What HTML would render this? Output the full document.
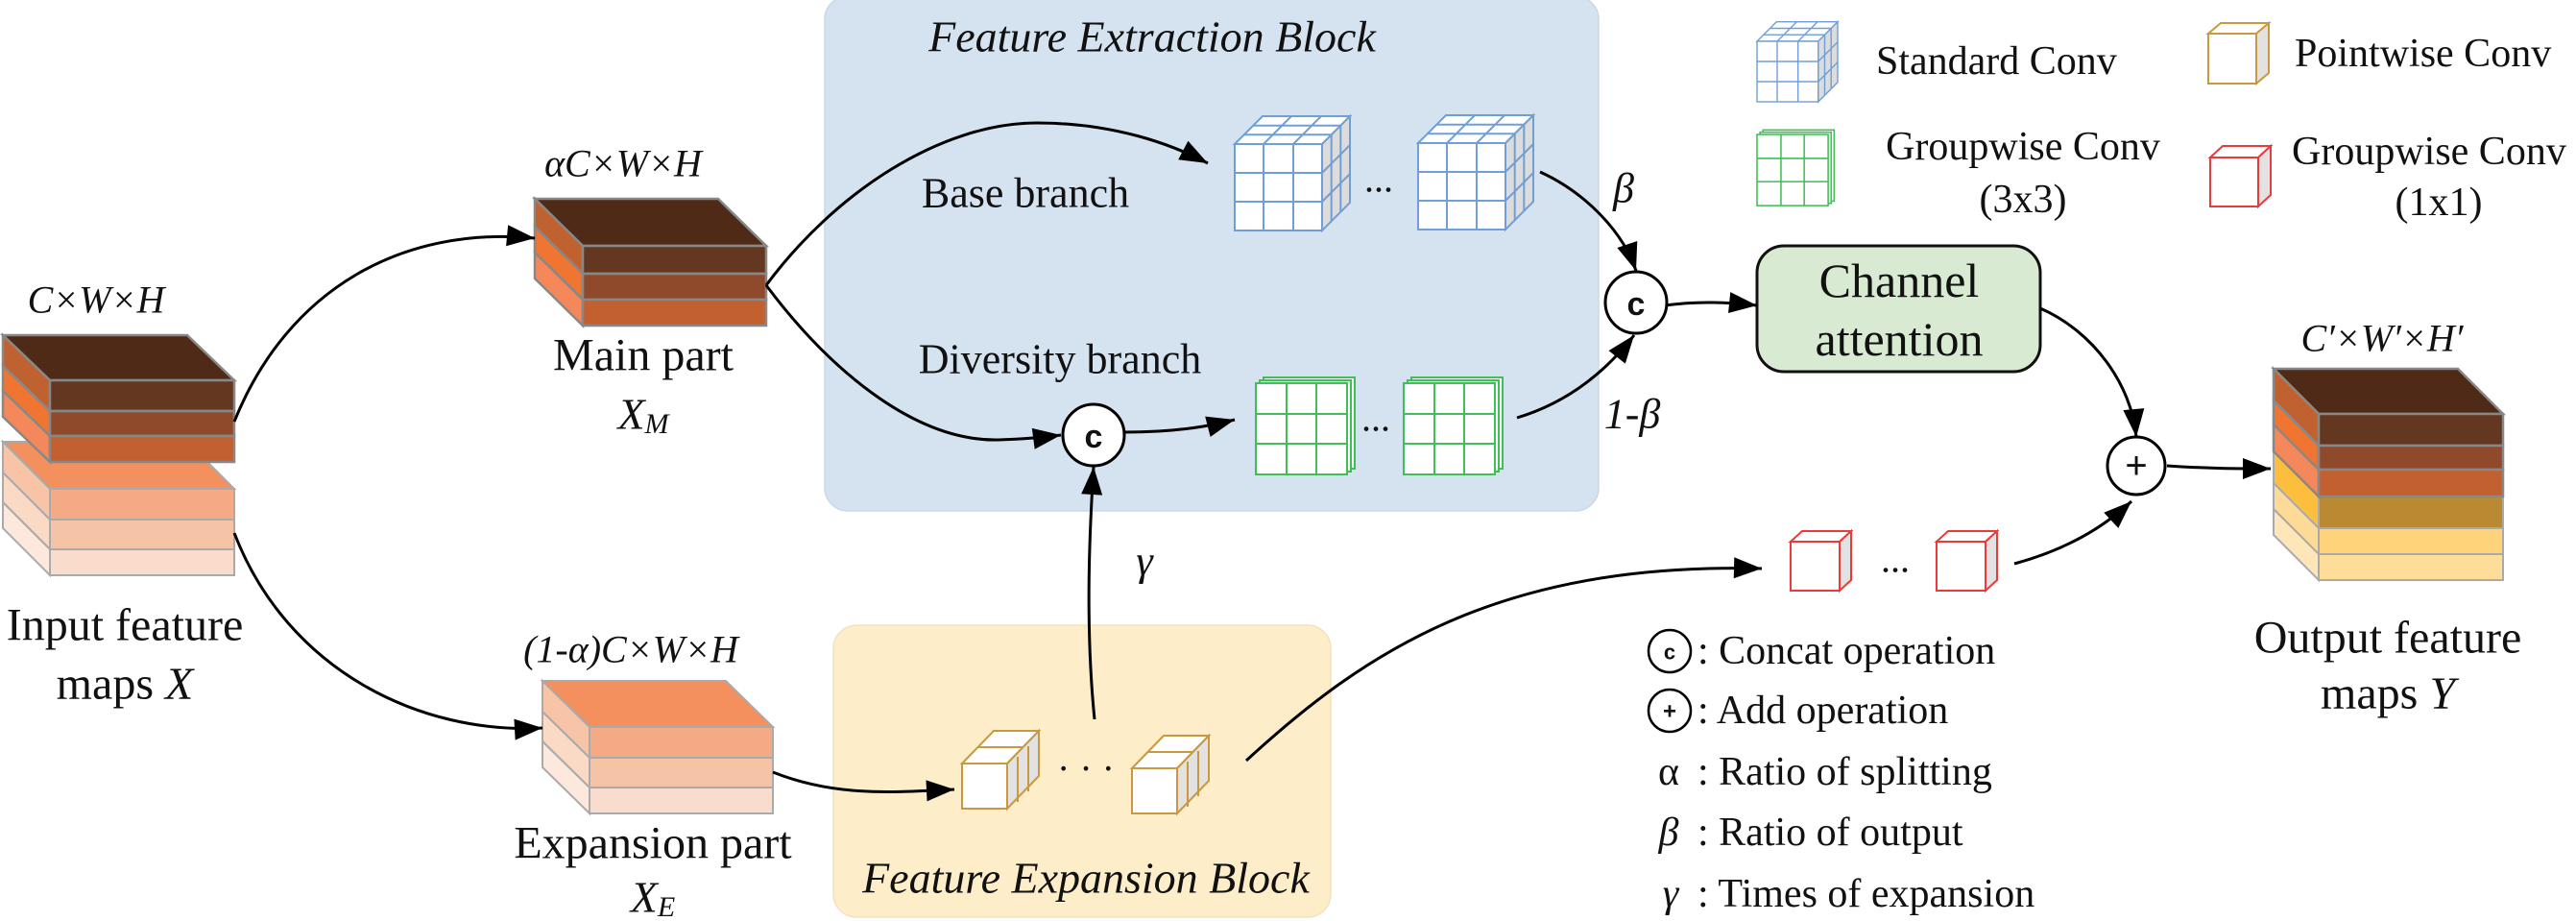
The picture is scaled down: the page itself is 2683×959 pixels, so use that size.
<!DOCTYPE html>
<html><head><meta charset="utf-8"><style>
html,body{margin:0;padding:0;background:#fff;}
svg{display:block;font-family:"Liberation Serif","Times New Roman","DejaVu Serif",serif;}
svg text{font-family:"Liberation Serif","Times New Roman","DejaVu Serif",serif;fill:#111;}
svg text.it, svg tspan.it{font-style:italic;}
svg text.sans{font-family:"Liberation Sans","DejaVu Sans",sans-serif;font-weight:bold;}
</style></head><body>
<svg width="2683" height="959" viewBox="0 0 2683 959" xmlns="http://www.w3.org/2000/svg" font-family="Liberation Serif, Times New Roman, DejaVu Serif, serif">
<defs>
<marker id="ah" viewBox="0 0 10 10" refX="9" refY="5" markerWidth="10" markerHeight="10" markerUnits="userSpaceOnUse" orient="auto" style="overflow:visible">
<path d="M-20,-6 L9,5 L-20,16 Z" fill="#000"/>
</marker>
<g id="bcube" fill="#fff" stroke="#6f9fd6" stroke-width="2">
<polygon points="0,0 29,-29 120,-29 91,0"/>
<polygon points="91,0 120,-29 120,61 91,90" fill="#dcdcdc"/>
<rect x="0" y="0" width="91" height="90"/>
<path d="M30,0V90M61,0V90M0,30H91M0,60H91M30,0L59,-29M61,0L90,-29M9.7,-9.7H100.7M19.3,-19.3H110.3M91,30L120,1M91,60L120,31M100.7,-9.7V80.3M110.3,-19.3V70.7" fill="none"/>
</g>
<g id="gcube" fill="#fff" stroke="#3fbf55" stroke-width="2">
<rect x="8" y="-6" width="95" height="95"/>
<rect x="4" y="-3" width="95" height="95"/>
<rect x="0" y="0" width="95" height="95"/>
<path d="M32,0V95M63,0V95M0,32H95M0,63H95" fill="none"/>
</g>
<g id="pcube" fill="#fff" stroke="#c9983f" stroke-width="2">
<polygon points="0,0 33,-34 80,-34 47,0"/>
<polygon points="47,0 80,-34 80,13 47,47" fill="#e2e2e2"/>
<rect x="0" y="0" width="47" height="47"/>
<path d="M16,-17H63M58,-7V40M69,-18V29" fill="none"/>
</g>
<g id="rcube" fill="#fff" stroke="#ea3b3b" stroke-width="2">
<polygon points="0,0 12,-11 63,-11 51,0"/>
<polygon points="51,0 63,-11 63,40 51,51" fill="#e2e2e2"/>
<rect x="0" y="0" width="51" height="51"/>
</g>
</defs>

<rect x="859" y="-4" width="806" height="536" rx="24" fill="#d5e3f0" stroke="#c9d9e8" stroke-width="1.5"/>
<rect x="868" y="651" width="518" height="304" rx="24" fill="#fdedc8" stroke="#f2e2c0" stroke-width="1.5"/>

<g stroke="#aaa" stroke-width="2">
<polygon points="3,460 195,460 244,509 52,509" fill="#f3905d"/>
<polygon points="52,509 52,541 3,492 3,460" fill="#f7c4a7"/>
<polygon points="52,541 52,572 3,523 3,492" fill="#fad9c5"/>
<polygon points="52,572 52,599 3,550 3,523" fill="#fce8dc"/>
<rect x="52" y="509" width="192" height="32" fill="#f4aa85"/>
<rect x="52" y="541" width="192" height="31" fill="#f5c3a6"/>
<rect x="52" y="572" width="192" height="27" fill="#f9dccb"/>
</g>
<g stroke="#888" stroke-width="2.5">
<polygon points="3,349 195,349 244,396 52,396" fill="#4f2a17"/>
<polygon points="52,396 52,428 3,381 3,349" fill="#c0622f"/>
<polygon points="52,428 52,454 3,407 3,381" fill="#ef7531"/>
<polygon points="52,454 52,481 3,434 3,407" fill="#f4885a"/>
<rect x="52" y="396" width="192" height="32" fill="#643820"/>
<rect x="52" y="428" width="192" height="26" fill="#8f4a2b"/>
<rect x="52" y="454" width="192" height="27" fill="#c2602f"/>
</g>

<g stroke="#888" stroke-width="2.5">
<polygon points="557,207 748,207 798,256 607,256" fill="#4f2a17"/>
<polygon points="607,256 607,285 557,236 557,207" fill="#c0622f"/>
<polygon points="607,285 607,312 557,263 557,236" fill="#ef7531"/>
<polygon points="607,312 607,339 557,290 557,263" fill="#f4885a"/>
<rect x="607" y="256" width="191" height="29" fill="#643820"/>
<rect x="607" y="285" width="191" height="27" fill="#8f4a2b"/>
<rect x="607" y="312" width="191" height="27" fill="#c2602f"/>
</g>

<g stroke="#aaa" stroke-width="2">
<polygon points="565,709 756,709 805,757 614,757" fill="#f3905d"/>
<polygon points="614,757 614,789 565,741 565,709" fill="#f7c4a7"/>
<polygon points="614,789 614,820 565,772 565,741" fill="#fad9c5"/>
<polygon points="614,820 614,847 565,799 565,772" fill="#fce8dc"/>
<rect x="614" y="757" width="191" height="32" fill="#f4aa85"/>
<rect x="614" y="789" width="191" height="31" fill="#f5c3a6"/>
<rect x="614" y="820" width="191" height="27" fill="#f9dccb"/>
</g>

<g stroke="#aaa" stroke-width="2">
<polygon points="2415,517 2415,550 2368,503 2368,470" fill="#fdbe3e"/>
<polygon points="2415,550 2415,577 2368,530 2368,503" fill="#fddb96"/>
<polygon points="2415,577 2415,604 2368,557 2368,530" fill="#fee6b8"/>
<rect x="2415" y="517" width="192" height="33" fill="#b98a32"/>
<rect x="2415" y="550" width="192" height="27" fill="#fed379"/>
<rect x="2415" y="577" width="192" height="27" fill="#fddd98"/>
</g>
<g stroke="#888" stroke-width="2.5">
<polygon points="2368,384 2560,384 2607,431 2415,431" fill="#4f2a17"/>
<polygon points="2415,431 2415,464 2368,417 2368,384" fill="#c0622f"/>
<polygon points="2415,464 2415,489 2368,442 2368,417" fill="#ef7531"/>
<polygon points="2415,489 2415,517 2368,470 2368,442" fill="#f4885a"/>
<rect x="2415" y="431" width="192" height="33" fill="#643820"/>
<rect x="2415" y="464" width="192" height="25" fill="#8f4a2b"/>
<rect x="2415" y="489" width="192" height="28" fill="#c2602f"/>
</g>

<use href="#bcube" x="1286" y="150"/>
<use href="#bcube" x="1477" y="149"/>
<use href="#gcube" x="1308" y="399"/>
<use href="#gcube" x="1462" y="399"/>
<use href="#pcube" x="1002" y="795"/>
<use href="#pcube" x="1179" y="800"/>
<use href="#rcube" x="1865" y="564"/>
<use href="#rcube" x="2017" y="564"/>

<use href="#bcube" transform="translate(1830,43) scale(0.7)"/>
<use href="#gcube" transform="translate(1830,140) scale(0.78)"/>
<g fill="#fff" stroke="#c9983f" stroke-width="2">
<polygon points="2300,35 2313,24 2363,24 2350,35"/>
<polygon points="2350,35 2363,24 2363,76 2350,87" fill="#e2e2e2"/>
<rect x="2300" y="35" width="50" height="52"/>
</g>
<g fill="#fff" stroke="#ea3b3b" stroke-width="2">
<polygon points="2302,164 2315,152 2365,152 2352,164"/>
<polygon points="2352,164 2365,152 2365,203 2352,215" fill="#e2e2e2"/>
<rect x="2302" y="164" width="50" height="51"/>
</g>

<rect x="1830" y="256" width="295" height="131" rx="28" fill="#d9ead3" stroke="#111" stroke-width="3"/>
<text x="1978" y="292" font-size="50" text-anchor="middle" dominant-baseline="central">Channel</text>
<text x="1978" y="353" font-size="50" text-anchor="middle" dominant-baseline="central">attention</text>

<g fill="none" stroke="#000" stroke-width="3" marker-end="url(#ah)">
<path d="M244,439 C300,300 420,235 557,248"/>
<path d="M244,555 C300,700 440,765 565,758"/>
<path d="M798,297 C870,200 980,128 1080,128 C1160,128 1220,150 1258,170"/>
<path d="M798,297 C860,380 950,460 1040,458 C1070,457 1090,455 1105,453"/>
<path d="M1171,450 C1220,450 1255,445 1286,437"/>
<path d="M1604,179 C1650,200 1690,240 1704,282"/>
<path d="M1580,435 C1630,420 1670,390 1702,349"/>
<path d="M1140,749 C1130,650 1135,550 1139,486"/>
<path d="M805,804 C870,830 930,825 994,822"/>
<path d="M1298,792 C1420,680 1560,585 1835,592"/>
<path d="M1734,318 C1770,313 1800,315 1830,318"/>
<path d="M2125,321 C2180,345 2220,400 2225,455"/>
<path d="M2098,587 C2150,573 2190,550 2220,522"/>
<path d="M2257,485 C2300,488 2330,488 2365,488"/>
</g>

<g fill="#fff" stroke="#000" stroke-width="3">
<circle cx="1139" cy="453" r="32"/>
<circle cx="1704" cy="315" r="32"/>
<circle cx="2225" cy="485" r="30"/>
<circle cx="1739" cy="678" r="22" stroke-width="2.5"/>
<circle cx="1739" cy="740" r="22" stroke-width="2.5"/>
</g>
<text class="sans" x="1139" y="455" font-size="34" text-anchor="middle" dominant-baseline="central">c</text>
<text class="sans" x="1704" y="317" font-size="34" text-anchor="middle" dominant-baseline="central">c</text>
<text x="2225" y="485" font-size="40" text-anchor="middle" dominant-baseline="central" style="font-family:'Liberation Sans',sans-serif">+</text>
<text class="sans" x="1739" y="679" font-size="22" text-anchor="middle" dominant-baseline="central">c</text>
<text class="sans" x="1739" y="741" font-size="24" text-anchor="middle" dominant-baseline="central">+</text>

<text x="1436" y="186" font-size="40" text-anchor="middle" dominant-baseline="central">...</text>
<text x="1433" y="435" font-size="40" text-anchor="middle" dominant-baseline="central">...</text>
<text x="1974" y="582" font-size="40" text-anchor="middle" dominant-baseline="central">...</text>
<text x="1131" y="800" font-size="40" text-anchor="middle" dominant-baseline="central">· · ·</text>

<text class="it" x="100" y="312" font-size="40" text-anchor="middle" dominant-baseline="central">C×W×H</text>
<text x="130" y="651" font-size="48" text-anchor="middle" dominant-baseline="central">Input feature</text>
<text x="130" y="712" font-size="48" text-anchor="middle" dominant-baseline="central">maps <tspan class="it" font-style="italic">X</tspan></text>
<text class="it" x="649" y="170" font-size="40" text-anchor="middle" dominant-baseline="central">αC×W×H</text>
<text x="670" y="370" font-size="48" text-anchor="middle" dominant-baseline="central">Main part</text>
<text class="it" x="670" y="431" font-size="46" text-anchor="middle" dominant-baseline="central">X<tspan font-size="30" dy="10">M</tspan></text>
<text class="it" x="657" y="676" font-size="40" text-anchor="middle" dominant-baseline="central">(1-α)C×W×H</text>
<text x="680" y="878" font-size="48" text-anchor="middle" dominant-baseline="central">Expansion part</text>
<text class="it" x="680" y="934" font-size="46" text-anchor="middle" dominant-baseline="central">X<tspan font-size="30" dy="10">E</tspan></text>

<text class="it" x="1200" y="38" font-size="46" text-anchor="middle" dominant-baseline="central">Feature Extraction Block</text>
<text x="1068" y="201" font-size="44" text-anchor="middle" dominant-baseline="central">Base branch</text>
<text x="1104" y="374" font-size="44" text-anchor="middle" dominant-baseline="central">Diversity branch</text>
<text class="it" x="1691" y="196" font-size="44" text-anchor="middle" dominant-baseline="central">β</text>
<text class="it" x="1700" y="431" font-size="44" text-anchor="middle" dominant-baseline="central">1-β</text>
<text class="it" x="1192" y="584" font-size="44" text-anchor="middle" dominant-baseline="central">γ</text>
<text class="it" x="1131" y="914" font-size="46" text-anchor="middle" dominant-baseline="central">Feature Expansion Block</text>

<text class="it" x="2481" y="352" font-size="40" text-anchor="middle" dominant-baseline="central">C′×W′×H′</text>
<text x="2487" y="664" font-size="48" text-anchor="middle" dominant-baseline="central">Output feature</text>
<text x="2487" y="722" font-size="48" text-anchor="middle" dominant-baseline="central">maps <tspan class="it" font-style="italic">Y</tspan></text>

<text x="1954" y="64" font-size="42" dominant-baseline="central">Standard Conv</text>
<text x="2107" y="153" font-size="42" text-anchor="middle" dominant-baseline="central">Groupwise Conv</text>
<text x="2107" y="208" font-size="42" text-anchor="middle" dominant-baseline="central">(3x3)</text>
<text x="2390" y="56" font-size="42" dominant-baseline="central">Pointwise Conv</text>
<text x="2387" y="158" font-size="42" dominant-baseline="central">Groupwise Conv</text>
<text x="2540" y="211" font-size="42" text-anchor="middle" dominant-baseline="central">(1x1)</text>

<text x="1768" y="678" font-size="42" dominant-baseline="central">: Concat operation</text>
<text x="1768" y="740" font-size="42" dominant-baseline="central">: Add operation</text>
<text x="1738" y="804" font-size="42" text-anchor="middle" dominant-baseline="central">α</text>
<text x="1768" y="804" font-size="42" dominant-baseline="central">: Ratio of splitting</text>
<text class="it" x="1738" y="867" font-size="42" text-anchor="middle" dominant-baseline="central">β</text>
<text x="1768" y="867" font-size="42" dominant-baseline="central">: Ratio of output</text>
<text class="it" x="1740" y="931" font-size="42" text-anchor="middle" dominant-baseline="central">γ</text>
<text x="1768" y="931" font-size="42" dominant-baseline="central">: Times of expansion</text>
</svg>
</body></html>
